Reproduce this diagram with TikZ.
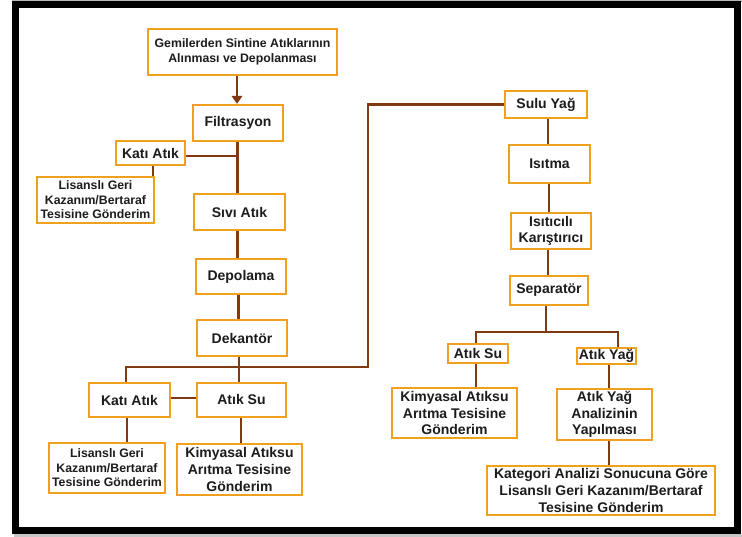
\documentclass[tikz,border=0pt]{standalone}
\usepackage{fontspec}
\setmainfont{Liberation Sans}
\usetikzlibrary{arrows.meta,backgrounds}
\definecolor{boxorange}{RGB}{240,160,28}
\definecolor{linkbrown}{RGB}{128,58,18}
\definecolor{inktext}{RGB}{28,28,28}
\tikzset{
  stepbox/.style={draw=boxorange, line width=2.3pt, fill=white, align=center,
    text=inktext, inner sep=1pt, font=\fontsize{14}{16.7}\selectfont\bfseries},
  smallbox/.style={stepbox, font=\fontsize{12.3}{14.5}\selectfont\bfseries},
  link/.style={draw=linkbrown, line width=2.2pt},
  flowarrow/.style={link, -{Triangle[length=8pt,width=10.5pt]}},
}
\newcommand{\bx}[6]{\node[#1, minimum width=#4pt, minimum height=#5pt] (#2) at (#3) {#6};}
\begin{document}
\begin{tikzpicture}[x=1pt,y=-1pt]
\useasboundingbox (0,0) rectangle (742,537);
% outer frame with a soft shadow
\fill[gray!55] (12,0) rectangle (742,2);
\fill[gray!45] (14,534) rectangle (742,537);
\draw[line width=7pt] (15.5,5) rectangle (737.5,530.5);

% left column
\bx{smallbox}{top}{242.5,52}{189}{46}{Gemilerden Sintine Atıklarının\\Alınması ve Depolanması}
\bx{stepbox}{filt}{238,123}{90}{36}{Filtrasyon}
\bx{stepbox}{katiA}{150.5,153}{69}{24}{Katı Atık}
\bx{smallbox}{lisA}{95.5,200}{117}{46}{Lisanslı Geri\\Kazanım/Bertaraf\\Tesisine Gönderim}
\bx{stepbox}{sivi}{239.5,212}{91}{36}{Sıvı Atık}
\bx{stepbox}{depo}{241,276.5}{90}{35}{Depolama}
\bx{stepbox}{dek}{242,338}{90}{36}{Dekantör}
\bx{stepbox}{katiB}{129.5,400}{81}{34}{Katı Atık}
\bx{stepbox}{suA}{241.5,400}{89}{34}{\raisebox{2pt}{Atık Su}}
\bx{smallbox}{lisB}{107,468}{116}{50}{Lisanslı Geri\\Kazanım/Bertaraf\\Tesisine Gönderim}
\bx{stepbox}{kimA}{239.5,469.5}{125}{51}{Kimyasal Atıksu\\Arıtma Tesisine\\Gönderim}

% right column
\bx{stepbox}{sulu}{546,104.5}{82}{27}{Sulu Yağ}
\bx{stepbox}{isit}{549.5,164}{81}{38}{Isıtma}
\bx{stepbox}{mix}{551,231}{80}{36}{Isıtıcılı\\Karıştırıcı}
\bx{stepbox}{sep}{549,290.5}{78}{29}{Separatör}
\bx{stepbox}{suB}{478,353.5}{60}{19}{Atık Su}
\bx{stepbox}{yag}{606.5,356}{59}{16}{Atık Yağ}
\bx{stepbox}{kimB}{454.5,413}{125}{50}{Kimyasal Atıksu\\Arıtma Tesisine\\Gönderim}
\bx{stepbox}{anal}{604.5,414.5}{95}{51}{Atık Yağ\\Analizinin\\Yapılması}
\bx{stepbox}{kat}{601,490.5}{228}{49}{Kategori Analizi Sonucuna Göre\\Lisanslı Geri Kazanım/Bertaraf\\Tesisine Gönderim}

% junction points of the connectors
\coordinate (busL) at (126,367);
\coordinate (busR) at (368,367);
\coordinate (splitL) at (476,332);
\coordinate (splitR) at (618,332);
\coordinate (filtTee) at (237.5,156);

\begin{scope}[on background layer]
  % left branch
  \draw[flowarrow] (top.south -| 237,0) -- (filt.north -| 237,0);
  \draw[link] (filt.south -| filtTee) -- (sivi.north -| filtTee);
  \draw[link] (katiA.east |- filtTee) -- (filtTee);
  \draw[link] ([xshift=2.5pt]katiA.south) -- ([xshift=2.5pt]katiA.south |- lisA.north);
  \draw[link] (sivi.south -| 237.5,0) -- (depo.north -| 237.5,0);
  \draw[link] (depo.south -| 238.5,0) -- (dek.north -| 238.5,0);
  \draw[link] (dek.south -| 239,0) -- (suA.north -| 239,0);
  \draw[link] (katiB.north -| busL) -- (busL) -- (busR) |- (sulu.west);
  \draw[link] (katiB.east |- 0,398) -- (suA.west |- 0,398);
  \draw[link] (katiB.south -| 127,0) -- (lisB.north -| 127,0);
  \draw[link] (suA.south -| 241,0) -- (kimA.north -| 241,0);
  % right branch
  \draw[link] (sulu.south -| 548,0) -- (isit.north -| 548,0);
  \draw[link] (isit.south -| 549,0) -- (mix.north -| 549,0);
  \draw[link] (mix.south -| 548,0) -- (sep.north -| 548,0);
  \draw[link] (sep.south -| 546,0) -- (splitL -| 546,0);
  \draw[link] (suB.north -| splitL) -- (splitL) -- (splitR) -- (yag.north -| splitR);
  \draw[link] (suB.south -| 476,0) -- (kimB.north -| 476,0);
  \draw[link] (yag.south -| 609,0) -- (anal.north -| 609,0);
  \draw[link] (anal.south -| 609,0) -- (kat.north -| 609,0);
\end{scope}
\end{tikzpicture}
\end{document}
